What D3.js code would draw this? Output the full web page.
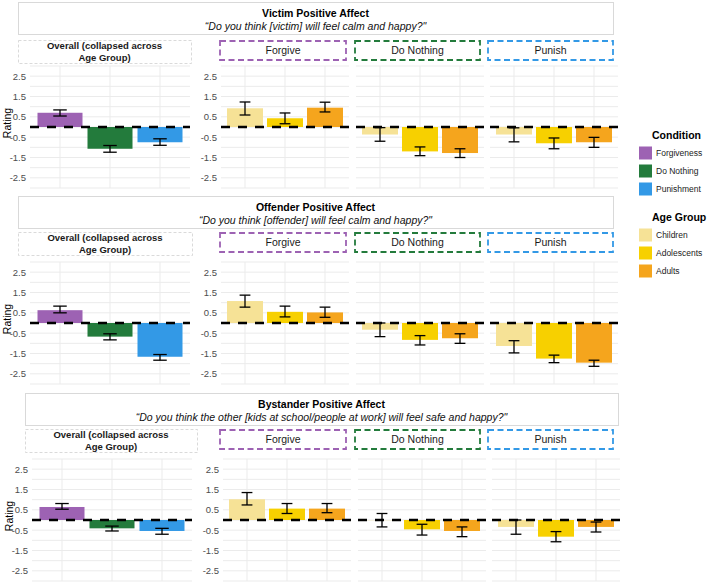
<!DOCTYPE html>
<html><head><meta charset="utf-8">
<script src="https://cdn.jsdelivr.net/npm/d3@7"></script>
<style>body{margin:0;background:#fff}svg{display:block}</style>
</head><body><svg id="c" width="709" height="585"></svg>
<script>
// ---------- data ----------
const conditions = ["Forgiveness", "Do Nothing", "Punishment"];
const panelNames = ["Forgive", "Do Nothing", "Punish"];
const ageGroups = ["Children", "Adolescents", "Adults"];
const yTicks = [2.5, 1.5, 0.5, -0.5, -1.5, -2.5];
const rowTitles = ["Victim Positive Affect", "Offender Positive Affect", "Bystander Positive Affect"];
const rowSubtitles = [
  "\u201cDo you think [victim] will feel calm and happy?\"",
  "\u201cDo you think [offender] will feel calm and happy?\"",
  "\u201cDo you think the other [kids at school/people at work] will feel safe and happy?\""
];
const overallLabel = ["Overall (collapsed across", "Age Group)"];

// Victim
const victimOverallMean = [0.70, -1.07, -0.75];
const victimOverallLow  = [0.54, -1.24, -0.90];
const victimOverallHigh = [0.84, -0.91, -0.58];
const victimAgeMean = [[0.92, 0.43, 0.95], [-0.37, -1.20, -1.28], [-0.37, -0.80, -0.75]];
const victimAgeLow  = [[0.59, 0.16, 0.74], [-0.70, -1.41, -1.50], [-0.73, -1.07, -1.00]];
const victimAgeHigh = [[1.23, 0.69, 1.22], [-0.03, -0.98, -1.07], [-0.04, -0.54, -0.51]];
// Offender
const offenderOverallMean = [0.63, -0.67, -1.66];
const offenderOverallLow  = [0.50, -0.83, -1.83];
const offenderOverallHigh = [0.83, -0.53, -1.55];
const offenderAgeMean = [[1.08, 0.55, 0.52], [-0.33, -0.83, -0.75], [-1.13, -1.75, -1.95]];
const offenderAgeLow  = [[0.78, 0.30, 0.28], [-0.67, -1.08, -1.00], [-1.47, -1.95, -2.13]];
const offenderAgeHigh = [[1.37, 0.83, 0.78], [0.00, -0.62, -0.53], [-0.87, -1.58, -1.83]];
// Bystander
const bystanderOverallMean = [0.64, -0.41, -0.54];
const bystanderOverallLow  = [0.53, -0.54, -0.70];
const bystanderOverallHigh = [0.81, -0.30, -0.41];
const bystanderAgeMean = [[1.02, 0.56, 0.56], [-0.01, -0.46, -0.54], [-0.34, -0.82, -0.34]];
const bystanderAgeLow  = [[0.74, 0.32, 0.36], [-0.34, -0.74, -0.82], [-0.70, -1.07, -0.59]];
const bystanderAgeHigh = [[1.35, 0.81, 0.81], [0.32, -0.21, -0.34], [0.00, -0.57, -0.10]];

// ---------- style / layout ----------
const condColors = ["#9d62b3", "#237b3c", "#3399e6"];
const ageColors = ["#f6e296", "#f7d000", "#f5a51d"];
const FONT = "'Liberation Sans', Arial, Helvetica, sans-serif";

const rows = [
  {om: victimOverallMean, ol: victimOverallLow, oh: victimOverallHigh, am: victimAgeMean, al: victimAgeLow, ah: victimAgeHigh},
  {om: offenderOverallMean, ol: offenderOverallLow, oh: offenderOverallHigh, am: offenderAgeMean, al: offenderAgeLow, ah: offenderAgeHigh},
  {om: bystanderOverallMean, ol: bystanderOverallLow, oh: bystanderOverallHigh, am: bystanderAgeMean, al: bystanderAgeLow, ah: bystanderAgeHigh}
];
const titleY = [2, 196, 393];
const titleX = [[18, 613], [18, 613], [25, 618]];
const stripY = [40, 232, 429];
const overallStripX = [[18, 191], [18, 192], [25, 197]];
const panelOff = [0, 196, 393];
const rowDx = [0, 0, 2];
const overallPanelX = [30, 190];
const agePanelX = [[221, 349], [356, 484], [490, 618]];
const condStripX = [[219, 347], [354, 481], [487, 614]];

const svg = d3.select("#c");

function drawPanel(g, x0, x1, top, bottom, cats, means, lows, highs, colors, showAxis, capFrac) {
  const x = d3.scalePoint().domain(cats).range([x0, x1]).padding(0.6);
  const y = d3.scaleLinear().domain([-3, 3]).range([bottom, top]);
  const bw = x.step() * 0.9;
  // grid
  g.append("g").selectAll("line").data(d3.range(-3, 3.01, 0.5)).join("line")
    .attr("x1", x0).attr("x2", x1).attr("y1", d => y(d)).attr("y2", d => y(d))
    .attr("stroke", "#ebebeb").attr("stroke-width", 1);
  g.append("g").selectAll("line").data(cats).join("line")
    .attr("x1", d => x(d)).attr("x2", d => x(d)).attr("y1", top).attr("y2", bottom)
    .attr("stroke", "#ebebeb").attr("stroke-width", 1);
  // bars
  g.append("g").selectAll("rect").data(cats).join("rect")
    .attr("x", d => x(d) - bw / 2).attr("width", bw)
    .attr("y", (d, i) => y(Math.max(0, means[i])))
    .attr("height", (d, i) => Math.abs(y(means[i]) - y(0)))
    .attr("fill", (d, i) => colors[i]);
  // zero line
  g.append("line").attr("x1", x0).attr("x2", x1).attr("y1", y(0)).attr("y2", y(0))
    .attr("stroke", "#000").attr("stroke-width", 2.5).attr("stroke-dasharray", "9,8");
  // error bars
  const cw = x.step() * capFrac / 2;
  const eb = g.append("g").attr("stroke", "#000").attr("stroke-width", 1.3);
  cats.forEach((c, i) => {
    eb.append("line").attr("x1", x(c)).attr("x2", x(c)).attr("y1", y(lows[i])).attr("y2", y(highs[i]));
    eb.append("line").attr("x1", x(c) - cw).attr("x2", x(c) + cw).attr("y1", y(lows[i])).attr("y2", y(lows[i]));
    eb.append("line").attr("x1", x(c) - cw).attr("x2", x(c) + cw).attr("y1", y(highs[i])).attr("y2", y(highs[i]));
  });
  if (showAxis) {
    const ax = g.append("g").attr("transform", `translate(${x0},0)`)
      .call(d3.axisLeft(y).tickValues(yTicks).tickSize(0).tickPadding(4).tickFormat(d => d.toFixed(1)));
    ax.select(".domain").remove();
    ax.selectAll("text").attr("font-family", FONT).attr("font-size", 9.5).attr("fill", "#4d4d4d");
  }
}

rows.forEach((r, ri) => {
  const g = svg.append("g");
  const dx = rowDx[ri];
  // title box
  const [tx0, tx1] = titleX[ri];
  g.append("rect").attr("x", tx0 + 0.5).attr("y", titleY[ri] + 0.5).attr("width", tx1 - tx0).attr("height", 32)
    .attr("fill", "#fff").attr("stroke", "#d9d9d9").attr("stroke-width", 1);
  g.append("text").attr("x", (tx0 + tx1) / 2).attr("y", titleY[ri] + 14.5).attr("text-anchor", "middle")
    .attr("font-family", FONT).attr("font-size", 10.5).attr("font-weight", "bold").text(rowTitles[ri]);
  g.append("text").attr("x", (tx0 + tx1) / 2).attr("y", titleY[ri] + 27.5).attr("text-anchor", "middle")
    .attr("font-family", FONT).attr("font-size", 10.5).attr("font-style", "italic").attr("fill", "#111").text(rowSubtitles[ri]);
  // overall strip
  const [sx0, sx1] = overallStripX[ri];
  g.append("rect").attr("x", sx0 + 0.5).attr("y", stripY[ri] + 0.5).attr("width", sx1 - sx0).attr("height", 23)
    .attr("fill", "none").attr("stroke", "#d0d0d0").attr("stroke-width", 0.8).attr("stroke-dasharray", "3,2");
  overallLabel.forEach((t, li) => {
    g.append("text").attr("x", (sx0 + sx1) / 2).attr("y", stripY[ri] + 9 + li * 11.5).attr("text-anchor", "middle")
      .attr("font-family", FONT).attr("font-size", 9.5).attr("font-weight", "bold").attr("fill", "#1a1a1a").text(t);
  });
  // condition strips
  panelNames.forEach((p, pi) => {
    const [cx0, cx1] = condStripX[pi];
    g.append("rect").attr("x", cx0 + 1).attr("y", stripY[ri] + 1).attr("width", cx1 - cx0 - 2).attr("height", 19)
      .attr("fill", "none").attr("stroke", condColors[pi]).attr("stroke-width", 1.8).attr("stroke-dasharray", "6,3.5");
    g.append("text").attr("x", (cx0 + cx1) / 2).attr("y", stripY[ri] + 14).attr("text-anchor", "middle")
      .attr("font-family", FONT).attr("font-size", 10.5).attr("fill", "#1a1a1a").text(p);
  });
  const top = 66 + panelOff[ri], bottom = 188 + panelOff[ri];
  // overall panel
  drawPanel(g, overallPanelX[0] + dx, overallPanelX[1] + dx, top, bottom, conditions, r.om, r.ol, r.oh, condColors, true, 0.27);
  // age panels
  panelNames.forEach((p, pi) => {
    drawPanel(g, agePanelX[pi][0] + dx, agePanelX[pi][1] + dx, top, bottom, ageGroups, r.am[pi], r.al[pi], r.ah[pi], ageColors, pi === 0, 0.27);
  });
  // y label
  g.append("text").attr("transform", `translate(${11 + dx},${(top + bottom) / 2 - 4}) rotate(-90)`)
    .attr("text-anchor", "middle").attr("font-family", FONT).attr("font-size", 10.5).attr("fill", "#000").text("Rating");
});

// legends
function legend(title, labels, colors, ty) {
  const g = svg.append("g");
  g.append("text").attr("x", 652).attr("y", ty + 4).attr("font-family", FONT).attr("font-size", 10.5)
    .attr("font-weight", "bold").text(title);
  labels.forEach((l, i) => {
    const cy = ty + 18 + i * 18;
    g.append("rect").attr("x", 639).attr("y", cy - 6.5).attr("width", 13).attr("height", 13).attr("fill", colors[i]);
    g.append("text").attr("x", 656).attr("y", cy + 3).attr("font-family", FONT).attr("font-size", 8.5)
      .attr("fill", "#222").text(l);
  });
}
legend("Condition", conditions, condColors, 135);
legend("Age Group", ageGroups, ageColors, 217);
</script></body></html>
